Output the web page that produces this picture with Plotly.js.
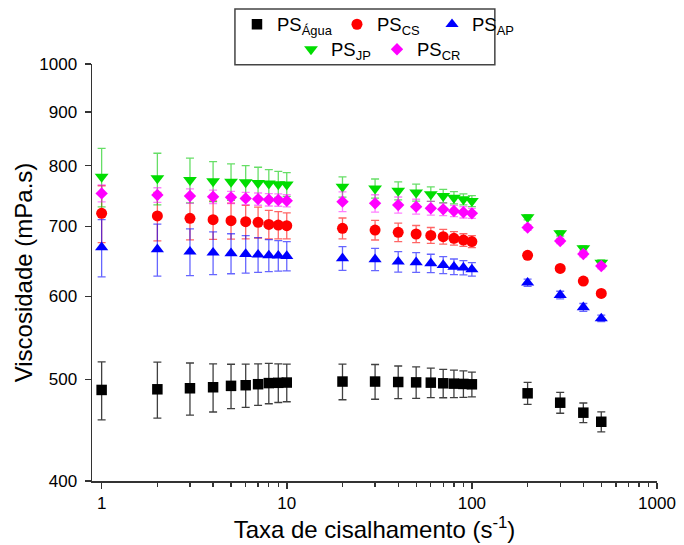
<!DOCTYPE html>
<html>
<head>
<meta charset="utf-8">
<script src="https://cdn.plot.ly/plotly-3.0.1.min.js"></script>
<style>html,body{margin:0;padding:0;background:#fff;}#chart{width:684px;height:545px;}</style>
</head>
<body>
<div id="chart"></div>
<script>
// Shear rate (s^-1)
const shearRate = [1,2,3,4,5,6,7,8,9,10,20,30,40,50,60,70,80,90,100,200,300,400,500];

// Viscosity (mPa.s) and standard deviations
const psAgua    = [488.6,489.3,490.4,491.5,493,493.7,494.8,496,496.3,496.6,497.7,497.7,497.2,496.8,496.5,495.8,495.4,495.1,494.7,485,475.1,464.8,455.6];
const psAguaErr = [31,30,28,26,24,23.5,22.5,22,21,20.5,19.5,19,17.8,17.2,16,15.5,15,14.5,13.5,11.7,10.9,10,10];

const psCS    = [720.3,716.1,712.4,710.3,708.7,707.1,706.1,703,702,701,696.9,694.3,690.8,688.3,686.2,684.2,681.8,679.2,676.9,656.8,638.2,620.7,604.1];
const psCSErr = [45,38,33,30,28,26,24,22,21,20,16,15,14,13,12,11,10,9.5,9,4,3,3,3];

const psAP    = [668.4,665.5,662.1,660.6,659.7,658.7,657.7,656.7,656.3,655.8,652.5,651,647.6,646.7,645.3,642.9,640.5,639.1,636.8,618.4,601.9,585.8,571.8];
const psAPErr = [42,38,34,31,29,27,25,23,22,21,17,16,14.5,14,13,12,11,10,9.5,5,5,5,4];

const psJP    = [780.6,777.9,775,773,772,771,770,769,768,767.5,763.5,760.7,756.8,754,751.3,748.2,745.4,742.7,740,714,689.3,667,646.2];
const psJPErr = [50,44,38,34,31,29,27,24,22,20,17,16,15,14,12,11,10,9,9,4,4,4,4];

const psCR    = [752.5,749.9,748.2,747,746,744.3,743.2,742,741.6,740.5,739,736.3,733.6,730.9,728.3,726.6,724,721.9,720.3,698,677.8,658.7,641.5];
const psCRErr = [14,12,12,11,10,10,10,10,10,10,16,14,13,12,11,10,9,9,8,4,4,4,4];

const seriesNames = ['PS<sub>Água</sub>','PS<sub>CS</sub>','PS<sub>AP</sub>','PS<sub>JP</sub>','PS<sub>CR</sub>'];

const xTickVals = [1,10,100,1000];
const xMinorVals = [2,3,4,5,6,7,8,9,20,30,40,50,60,70,80,90,200,300,400,500,600,700,800,900];
const yTickVals = [400,500,600,700,800,900,1000];

const FONT = 'Liberation Sans, Arial, sans-serif';

function mk(name, y, err, symbol, size, color, errColor, legend) {
  return {
    x: shearRate, y: y, name: name, type: 'scatter', mode: 'markers',
    legend: legend,
    marker: {symbol: symbol, size: size, color: color, line: {width: 0}},
    error_y: {type: 'data', array: err, visible: true, color: errColor, thickness: 1.3, width: 4}
  };
}

const data = [
  mk(seriesNames[0], psAgua, psAguaErr, 'square', 10.5, '#000000', 'rgba(30,30,30,0.85)', 'legend'),
  mk(seriesNames[1], psCS, psCSErr, 'circle', 11, '#ff0000', 'rgba(255,0,0,0.6)', 'legend2'),
  mk(seriesNames[2], psAP, psAPErr, 'triangle-up', 11.5, '#0000ff', 'rgba(0,0,255,0.6)', 'legend3'),
  mk(seriesNames[3], psJP, psJPErr, 'triangle-down', 12, '#00dd00', 'rgba(0,200,0,0.6)', 'legend4'),
  mk(seriesNames[4], psCR, psCRErr, 'diamond', 9.5, '#ff00ff', 'rgba(255,0,255,0.5)', 'legend5')
];

const axisCommon = {
  type: 'log', showline: true, linecolor: '#333', linewidth: 1.5, mirror: false,
  ticks: 'outside', ticklen: 6, tickwidth: 1.5, tickcolor: '#333',
  showgrid: false, zeroline: false,
  tickfont: {family: FONT, size: 17, color: '#000'}
};

function leg(x, y) {
  return {orientation: 'h', x: x, xanchor: 'left', y: y, yanchor: 'middle',
          font: {family: FONT, size: 18.5, color: '#000'}, bgcolor: 'rgba(0,0,0,0)', borderwidth: 0};
}

const layout = {
  width: 684, height: 545,
  margin: {l: 92, r: 27, t: 64, b: 64, autoexpand: false},
  paper_bgcolor: '#fff', plot_bgcolor: '#fff',
  font: {family: FONT, color: '#000'},
  showlegend: true,
  xaxis: Object.assign({}, axisCommon, {
    range: [Math.log10(0.887), 3],
    tickmode: 'array', tickvals: xTickVals, ticktext: xTickVals.map(String),
    minor: {tickmode: 'array', tickvals: xMinorVals, ticks: 'outside', ticklen: 4, tickwidth: 1.2, tickcolor: '#333', showgrid: false},
    title: {text: 'Taxa de cisalhamento (s<sup>-1</sup>)', font: {family: FONT, size: 24, color: '#000'}, standoff: 8}
  }),
  yaxis: Object.assign({}, axisCommon, {
    range: [Math.log10(400), 3],
    tickmode: 'array', tickvals: yTickVals, ticktext: yTickVals.map(String),
    ticklabelstandoff: 4,
    title: {text: 'Viscosidade (mPa.s)', font: {family: FONT, size: 24, color: '#000'}, standoff: 0}
  }),
  legend:  leg(0.2566, 1.0942),
  legend2: leg(0.4336, 1.0942),
  legend3: leg(0.6018, 1.0942),
  legend4: leg(0.3522, 1.0343),
  legend5: leg(0.5044, 1.0343),
  shapes: [{type: 'rect', xref: 'paper', yref: 'paper', x0: 0.253, x1: 0.713, y0: 0.998, y1: 1.132,
            line: {color: '#444', width: 1.5}, fillcolor: 'rgba(0,0,0,0)'}]
};

Plotly.newPlot('chart', data, layout, {displayModeBar: false, staticPlot: true});
</script>
</body>
</html>
